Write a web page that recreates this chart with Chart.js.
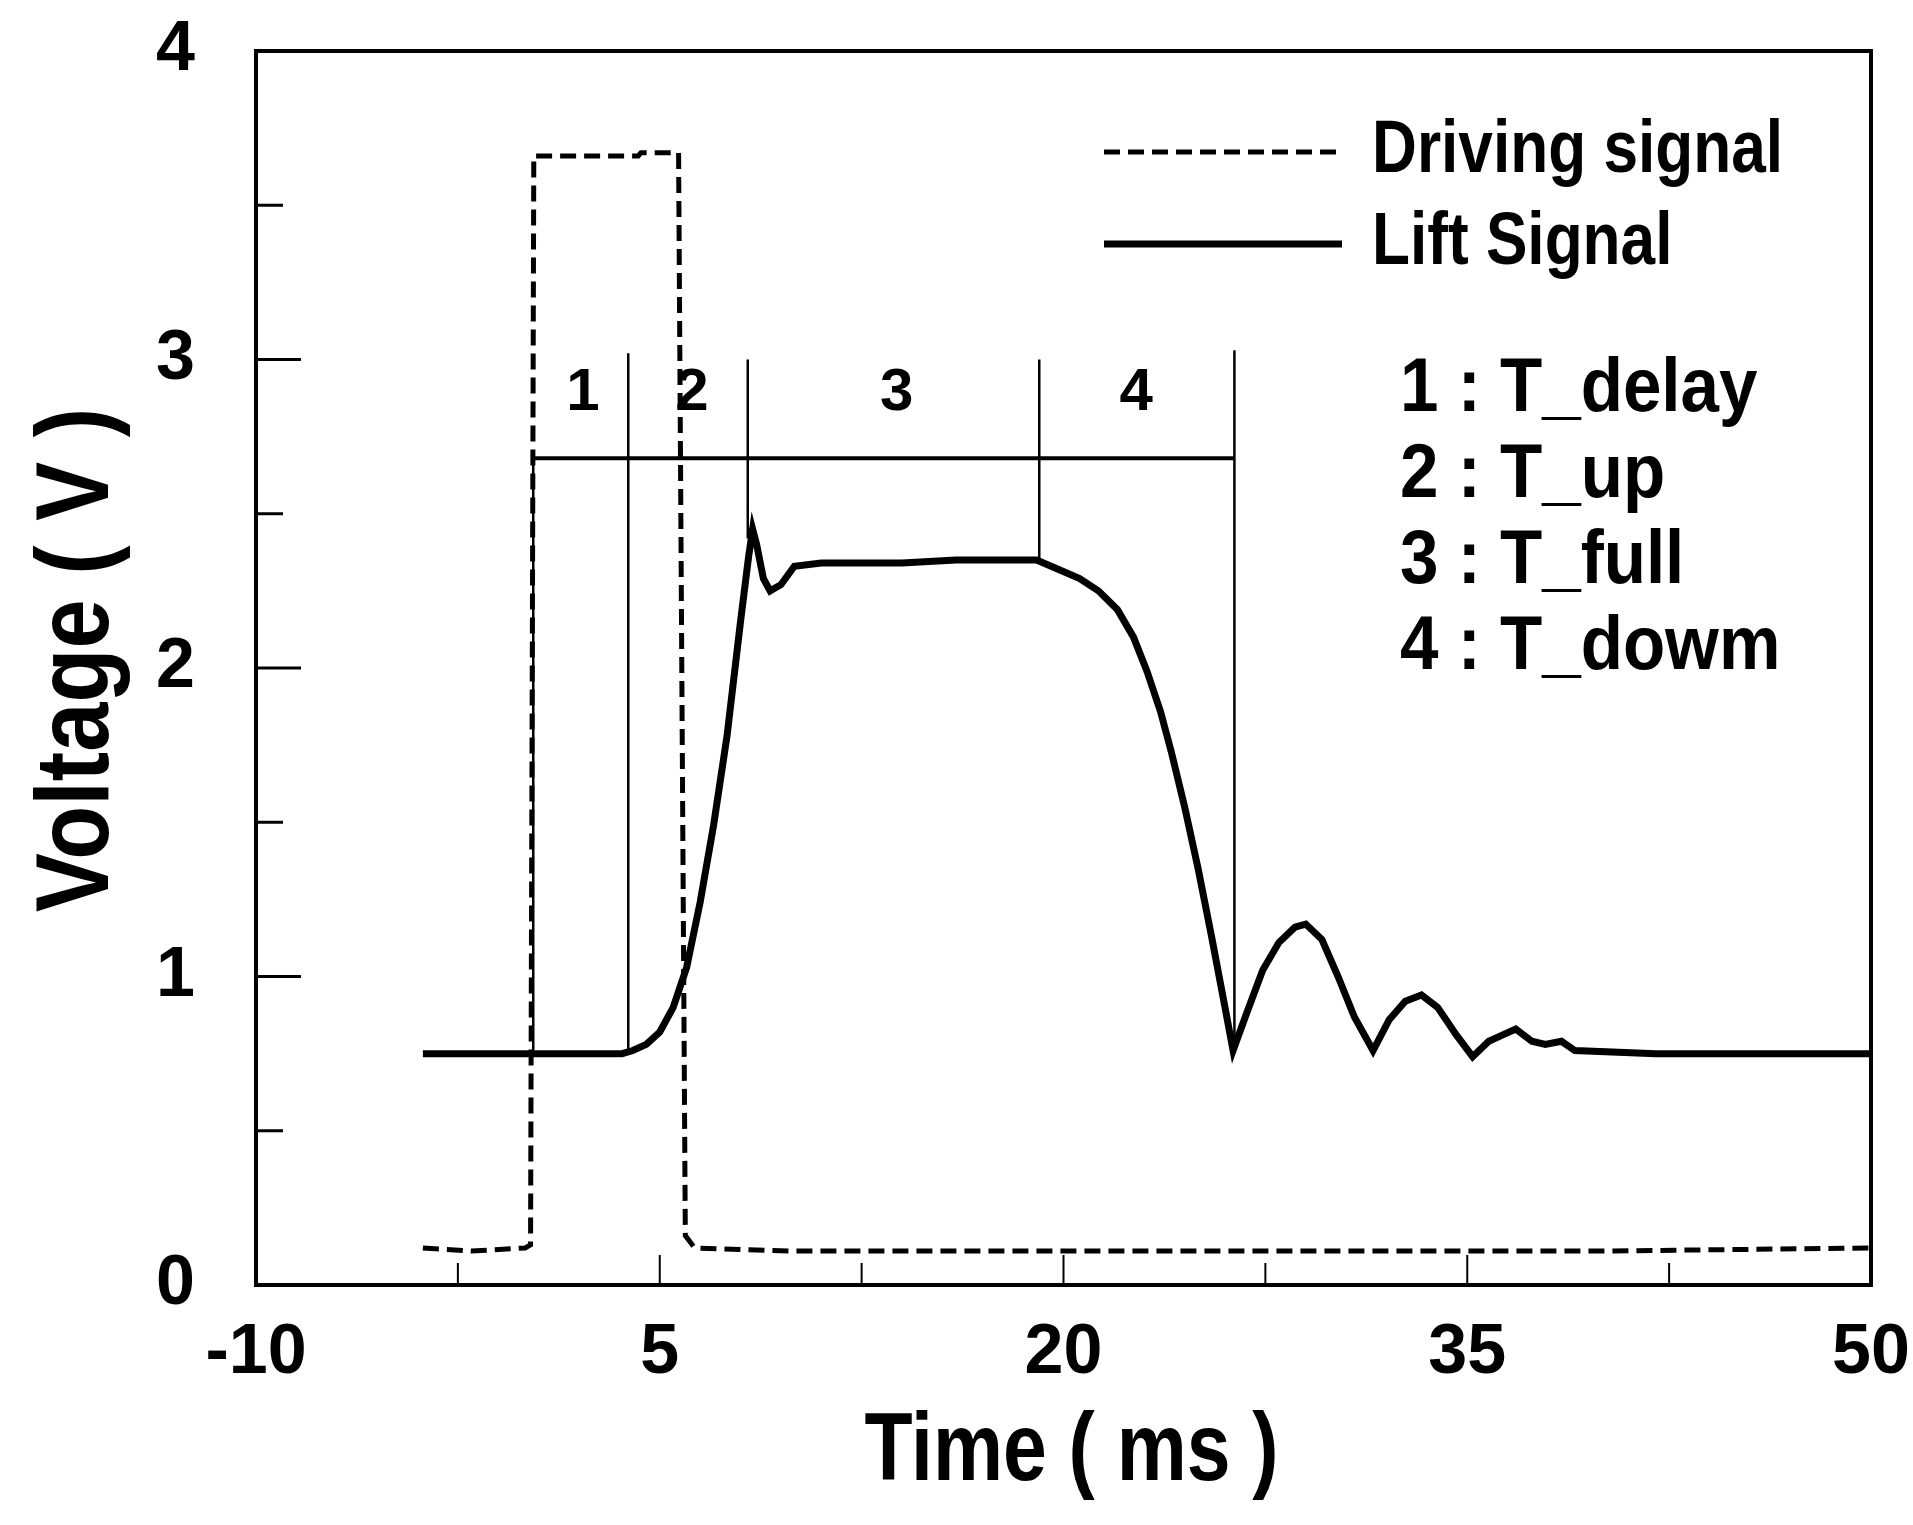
<!DOCTYPE html>
<html>
<head>
<meta charset="utf-8">
<script src="https://cdn.jsdelivr.net/npm/chart.js@4.4.0/dist/chart.umd.min.js"></script>
<style>
  html, body { margin: 0; padding: 0; background: #fff; }
  #wrap { width: 1913px; height: 1525px; }
</style>
</head>
<body>
<div id="wrap"><canvas id="chart"></canvas></div>
<script>
// lift signal (solid)
const liftTime = [-3.8, 3.6, 4.0, 4.5, 5.0, 5.5, 6.0, 6.5, 7.0, 7.5, 8.0, 8.3, 8.45, 8.6, 8.85, 9.1, 9.5, 10.0,
  11.0, 14.0, 16.0, 19.0, 19.8, 20.6, 21.3, 22.0, 22.6, 23.1, 23.6, 24.0, 24.5, 25.0, 25.5, 26.0, 26.3,
  26.8, 27.4, 28.0, 28.6, 29.0, 29.6, 30.2, 30.8, 31.5, 32.1, 32.7, 33.3, 33.9, 34.6, 35.2, 35.8, 36.3,
  36.8, 37.4, 37.9, 38.5, 39.0, 42.0, 46.0, 50.0];
const liftVolt = [0.75, 0.75, 0.76, 0.78, 0.82, 0.90, 1.03, 1.24, 1.49, 1.78, 2.15, 2.36, 2.45, 2.40, 2.29, 2.25, 2.27, 2.33,
  2.34, 2.34, 2.35, 2.35, 2.32, 2.29, 2.25, 2.19, 2.10, 1.99, 1.86, 1.73, 1.55, 1.35, 1.13, 0.90, 0.76,
  0.88, 1.02, 1.11, 1.16, 1.17, 1.12, 1.00, 0.87, 0.76, 0.86, 0.92, 0.94, 0.90, 0.81, 0.74, 0.79, 0.81,
  0.83, 0.79, 0.78, 0.79, 0.76, 0.75, 0.75, 0.75];

// driving signal (dashed)
const driveTime = [-3.8, -2.0, 0.0, 0.2, 0.32, 2.0, 4.2, 4.3, 5.7, 5.95, 6.3, 10.0, 20.0, 30.0, 40.0, 50.0];
const driveVolt = [0.12, 0.11, 0.12, 0.13, 3.66, 3.66, 3.66, 3.67, 3.67, 0.16, 0.12, 0.11, 0.11, 0.11, 0.11, 0.12];

// phase markers
const phaseNames = ['1', '2', '3', '4'];
const phaseNameTime = [2.15, 6.2, 13.8, 22.7];
const phaseNameVolt = 2.89;
const phaseLineVolt = 2.68;
const boundaryTime = [0.3, 3.83, 8.27, 19.1, 26.35];
const boundaryTop = [2.68, 3.02, 3.0, 3.0, 3.03];
const boundaryBottom = [0.75, 0.76, 2.42, 2.35, 0.76];

const seriesNames = ['Driving signal', 'Lift Signal'];
const phaseNotes = ['1 : T_delay', '2 : T_up', '3 : T_full', '4 : T_dowm'];
const xTitle = 'Time ( ms )';
const yTitle = 'Voltage ( V )';

const FONT = "'Liberation Sans', Arial, sans-serif";

const toPoints = (xs, ys) => xs.map((x, i) => ({ x: x, y: ys[i] }));

// the original lettering is a condensed sans, so squeeze it horizontally
function narrowText(ctx, text, x, y, size, squeeze, align, rotate) {
  ctx.save();
  ctx.translate(x, y);
  if (rotate) ctx.rotate(-Math.PI / 2);
  ctx.scale(squeeze, 1);
  ctx.font = 'bold ' + size + 'px ' + FONT;
  ctx.textAlign = align;
  ctx.textBaseline = 'middle';
  ctx.fillText(text, 0, 0);
  ctx.restore();
}

const framePlugin = {
  id: 'frame',
  beforeDatasetsDraw(chart) {
    const ctx = chart.ctx;
    const x = chart.scales.x, y = chart.scales.y;
    ctx.save();
    ctx.strokeStyle = '#000';
    ctx.lineCap = 'butt';
    // horizontal phase line
    ctx.lineWidth = 4;
    ctx.beginPath();
    ctx.moveTo(x.getPixelForValue(boundaryTime[0]), y.getPixelForValue(phaseLineVolt));
    ctx.lineTo(x.getPixelForValue(boundaryTime[boundaryTime.length - 1]), y.getPixelForValue(phaseLineVolt));
    ctx.stroke();
    // vertical boundaries
    ctx.lineWidth = 2.5;
    boundaryTime.forEach((t, i) => {
      const px = x.getPixelForValue(t);
      ctx.beginPath();
      ctx.moveTo(px, y.getPixelForValue(boundaryTop[i]));
      ctx.lineTo(px, y.getPixelForValue(boundaryBottom[i]));
      ctx.stroke();
    });
    // phase numbers
    ctx.fillStyle = '#000';
    ctx.font = 'bold 60px ' + FONT;
    ctx.textAlign = 'center';
    ctx.textBaseline = 'middle';
    phaseNames.forEach((n, i) => {
      ctx.fillText(n, x.getPixelForValue(phaseNameTime[i]), y.getPixelForValue(phaseNameVolt));
    });
    ctx.restore();
  },
  afterDraw(chart) {
    const ctx = chart.ctx;
    const a = chart.chartArea;
    const x = chart.scales.x, y = chart.scales.y;
    ctx.save();
    ctx.strokeStyle = '#000';
    ctx.fillStyle = '#000';
    ctx.lineWidth = 4;
    ctx.strokeRect(a.left, a.top, a.right - a.left, a.bottom - a.top);
    // inside ticks
    ctx.lineWidth = 3;
    y.ticks.forEach(t => {
      const py = y.getPixelForValue(t.value);
      const len = Number.isInteger(t.value) ? 45 : 27;
      ctx.beginPath();
      ctx.moveTo(a.left, py);
      ctx.lineTo(a.left + len, py);
      ctx.stroke();
    });
    ctx.lineWidth = 2;
    x.ticks.forEach(t => {
      const px = x.getPixelForValue(t.value);
      const len = (t.value + 10) % 15 === 0 ? 30 : 22;
      ctx.beginPath();
      ctx.moveTo(px, a.bottom);
      ctx.lineTo(px, a.bottom - len);
      ctx.stroke();
    });
    // legend
    const legY = [152, 244];
    chart.data.datasets.forEach((ds, i) => {
      ctx.lineWidth = ds.borderWidth;
      ctx.setLineDash(ds.borderDash || []);
      ctx.beginPath();
      ctx.moveTo(1104, legY[i]);
      ctx.lineTo(1342, legY[i]);
      ctx.stroke();
      ctx.setLineDash([]);
      narrowText(ctx, seriesNames[i], 1372, legY[i], 74, 0.84, 'left', false);
    });
    // phase notes
    phaseNotes.forEach((s, i) => {
      narrowText(ctx, s, 1400, 390 + i * 86, 76, 0.91, 'left', false);
    });
    // axis titles
    narrowText(ctx, xTitle, (a.left + a.right) / 2 + 8, 1454, 96, 0.82, 'center', false);
    narrowText(ctx, yTitle, 79, (a.top + a.bottom) / 2 - 8, 104, 0.85, 'center', true);
    ctx.restore();
  }
};

new Chart(document.getElementById('chart'), {
  type: 'line',
  data: {
    datasets: [
      {
        label: seriesNames[0],
        data: toPoints(driveTime, driveVolt),
        borderColor: '#000',
        borderWidth: 5,
        borderDash: [16, 8],
        pointRadius: 0,
        tension: 0,
        fill: false
      },
      {
        label: seriesNames[1],
        data: toPoints(liftTime, liftVolt),
        borderColor: '#000',
        borderWidth: 7,
        pointRadius: 0,
        tension: 0,
        fill: false
      }
    ]
  },
  options: {
    responsive: true,
    maintainAspectRatio: false,
    animation: false,
    layout: { padding: { top: 51, right: 42, left: 0, bottom: 0 } },
    plugins: { legend: { display: false }, tooltip: { enabled: false } },
    scales: {
      x: {
        type: 'linear',
        min: -10,
        max: 50,
        grid: { display: false, drawTicks: false },
        border: { display: false },
        ticks: {
          stepSize: 7.5,
          autoSkip: false,
          maxRotation: 0,
          padding: 27,
          color: '#000',
          font: { family: FONT, size: 70, weight: 'bold' },
          callback: v => ((v + 10) % 15 === 0 ? String(v) : '')
        },
        afterFit: s => { s.height = 240; s.paddingLeft = 0; s.paddingRight = 0; }
      },
      y: {
        min: 0,
        max: 4,
        grid: { display: false, drawTicks: false },
        border: { display: false },
        ticks: {
          stepSize: 0.5,
          autoSkip: false,
          padding: 61,
          color: '#000',
          font: { family: FONT, size: 70, weight: 'bold' },
          callback: v => (Number.isInteger(v) ? String(v) : '')
        },
        afterFit: s => { s.width = 256; s.paddingTop = 0; s.paddingBottom = 0; }
      }
    }
  },
  plugins: [framePlugin]
});
</script>
</body>
</html>
